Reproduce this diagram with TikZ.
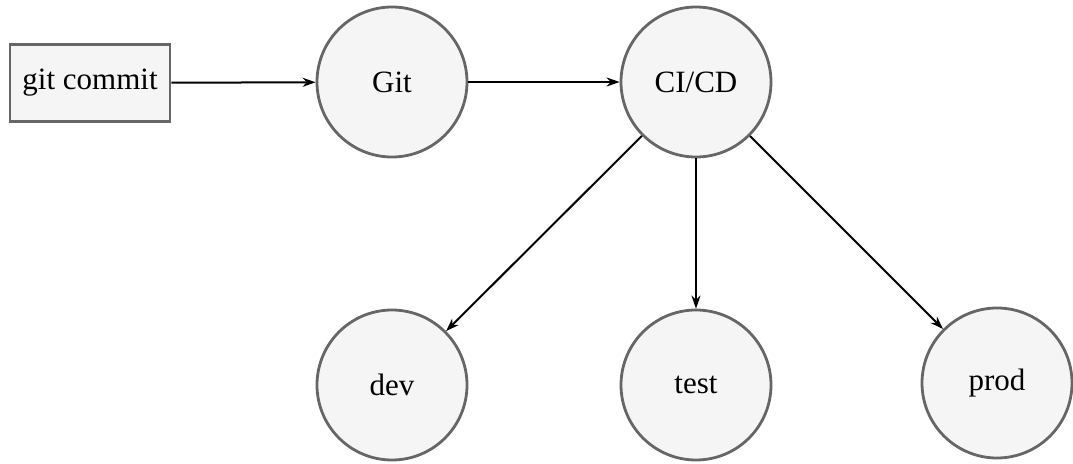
\documentclass[tikz,border=0pt]{standalone}
\usepackage{fontspec}
\setmainfont{Liberation Serif}
\usetikzlibrary{arrows.meta}
\definecolor{nodefill}{HTML}{F5F5F5}
\definecolor{nodeline}{HTML}{666666}
\tikzset{
  circ/.style={circle, draw=nodeline, fill=nodefill, line width=2.8pt, minimum size=150pt, inner sep=0pt, font=\fontsize{31}{36}\selectfont},
  boxnode/.style={rectangle, draw=nodeline, fill=nodefill, line width=2.8pt, minimum width=160pt, minimum height=77pt, inner sep=0pt, font=\fontsize{31}{36}\selectfont},
  conn/.style={-{Stealth[length=13pt,width=9pt]}, line width=2pt, black}
}
\begin{document}
\begin{tikzpicture}[x=1pt,y=-1pt]
\useasboundingbox (0,0) rectangle (1073,463);
\node[boxnode] (commit) at (90,83) {git commit};
\node[circ] (git) at (392,82) {Git};
\node[circ] (cicd) at (696,82) {CI/CD};
\node[circ] (dev) at (392,385) {dev};
\node[circ] (test) at (696,385) {test};
\node[circ] (prod) at (997,383) {prod};
\draw[conn] (commit) -- (git);
\draw[conn] (git) -- (cicd);
\draw[conn] (cicd) -- (dev);
\draw[conn] (cicd) -- (test);
\draw[conn] (cicd) -- (prod);
\end{tikzpicture}
\end{document}
